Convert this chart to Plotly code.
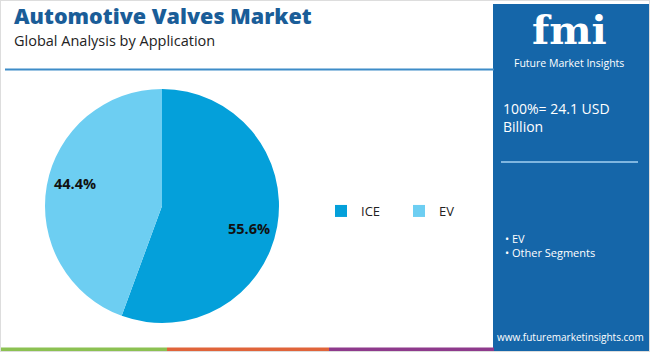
import math
import plotly.graph_objects as go

W, H = 650, 352

categories = ["ICE", "EV"]
shares = [55.6, 44.4]
colors = ["#04a0da", "#6dcef2"]

title = "Automotive Valves Market"
subtitle = "Global Analysis by Application"
total_text = "100%= 24.1 USD<br>Billion"
panel_items = ["EV", "Other Segments"]
site = "www.futuremarketinsights.com"

def px(x):
    return x / W

def py(y):
    return 1 - y / H

# pie geometry (pixels)
cx, cy, r = 162, 206, 117

fig = go.Figure()
fig.add_trace(go.Pie(
    labels=categories,
    values=shares,
    marker=dict(colors=colors, line=dict(width=0)),
    sort=False,
    direction="clockwise",
    rotation=0,
    textinfo="none",
    hoverinfo="label+percent",
    showlegend=True,
    domain=dict(x=[px(cx - r), px(cx + r)], y=[py(cy + r), py(cy - r)]),
))

annotations = []
# percentage labels positioned by slice mid-angle
cum = 0
tot = sum(shares)
for name, v in zip(categories, shares):
    mid = (cum + v / 2) / tot
    cum += v
    ang = math.radians(90 - mid * 360 - 4.5)
    rr = r * 0.765
    lx = cx + rr * math.cos(ang)
    ly = cy - rr * math.sin(ang)
    annotations.append(dict(
        x=px(lx), y=py(ly), xref="paper", yref="paper", xanchor="center", yanchor="middle",
        text=f"<b>{v:.1f}%</b>", showarrow=False,
        font=dict(family="Open Sans", size=14.5, color="#111111", weight=800),
    ))

annotations += [
    dict(x=px(12), y=py(16), xref="paper", yref="paper", xanchor="left", yanchor="middle",
         text=title, showarrow=False,
         font=dict(family="Open Sans", size=21.5, color="#1a5d98", weight=800)),
    dict(x=px(12), y=py(40), xref="paper", yref="paper", xanchor="left", yanchor="middle",
         text=subtitle, showarrow=False,
         font=dict(family="Open Sans", size=14.5, color="#222222")),
    # logo
    dict(x=px(569), y=py(29), xref="paper", yref="paper", xanchor="center", yanchor="middle",
         text="<b>fmi</b>", showarrow=False,
         font=dict(family="DejaVu Serif", size=40, color="#ffffff")),
    dict(x=px(569), y=py(63), xref="paper", yref="paper", xanchor="center", yanchor="middle",
         text="Future Market Insights", showarrow=False,
         font=dict(family="Open Sans", size=10.5, color="#ffffff")),
    dict(x=px(501), y=py(117), xref="paper", yref="paper", xanchor="left", yanchor="middle",
         text=total_text, showarrow=False, align="left",
         font=dict(family="Open Sans", size=14, color="#ffffff")),
    dict(x=px(503), y=py(245), xref="paper", yref="paper", xanchor="left", yanchor="middle",
         text="<br>".join("• " + t for t in panel_items), showarrow=False, align="left",
         font=dict(family="Open Sans", size=11, color="#ffffff")),
    dict(x=px(570), y=py(337), xref="paper", yref="paper", xanchor="center", yanchor="middle",
         text=site, showarrow=False,
         font=dict(family="Open Sans", size=10, color="#ffffff")),
]

shapes = [
    # header rule
    dict(type="line", xref="paper", yref="paper", x0=px(5), x1=px(494), y0=py(69.5), y1=py(69.5),
         line=dict(color="#3d8cc8", width=2)),
    # right panel
    dict(type="rect", xref="paper", yref="paper", x0=px(493), x1=px(650), y0=py(352), y1=py(4),
         fillcolor="#1566a9", line=dict(width=0), layer="below"),
    # panel rule
    dict(type="line", xref="paper", yref="paper", x0=px(501), x1=px(638), y0=py(162), y1=py(162),
         line=dict(color="#7fb6e0", width=2)),
    # bottom colour bar
    dict(type="rect", xref="paper", yref="paper", x0=px(1), x1=px(167), y0=py(352), y1=py(347.5),
         fillcolor="#8cc152", line=dict(width=0)),
    dict(type="rect", xref="paper", yref="paper", x0=px(167), x1=px(329), y0=py(352), y1=py(347.5),
         fillcolor="#e0643a", line=dict(width=0)),
    dict(type="rect", xref="paper", yref="paper", x0=px(329), x1=px(494), y0=py(352), y1=py(347.5),
         fillcolor="#8e3a8c", line=dict(width=0)),
    # outer light border
    dict(type="rect", xref="paper", yref="paper", x0=0, x1=1, y0=0, y1=1,
         line=dict(color="#dddddd", width=2), fillcolor="rgba(0,0,0,0)"),
]

fig.update_layout(
    width=W, height=H,
    margin=dict(l=0, r=0, t=0, b=0),
    paper_bgcolor="#ffffff",
    plot_bgcolor="#ffffff",
    showlegend=True,
    legend=dict(
        orientation="h", x=px(321), y=py(211), xanchor="left", yanchor="middle",
        font=dict(family="Open Sans", size=13, color="#222222"),
        itemwidth=30, entrywidth=33, traceorder="normal", bgcolor="rgba(0,0,0,0)",
    ),
    annotations=annotations,
    shapes=shapes,
)

fig.write_html("out.html")
